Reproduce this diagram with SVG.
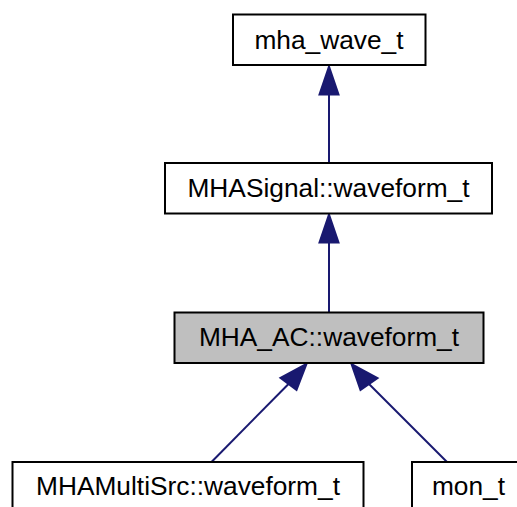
<svg xmlns="http://www.w3.org/2000/svg" width="517" height="507" viewBox="0 0 517 507">
<style>
.box{fill:#ffffff;stroke:#000000;stroke-width:2}
.cur{fill:#bfbfbf;stroke:#000000;stroke-width:2}
.lbl{font-family:"Liberation Sans",Arial,Helvetica,sans-serif;font-size:26.3px;fill:#000000;text-anchor:middle}
.edge{stroke:#191970;stroke-width:2;fill:none}
.head{fill:#191970;stroke:#191970;stroke-width:2}
</style>
<rect width="517" height="507" fill="#ffffff"/>
<g id="connectors">
<line class="edge" x1="329" y1="95" x2="329" y2="163"/>
<polygon class="head" points="329,66.5 319.5,94.5 338.5,94.5"/>
<line class="edge" x1="329" y1="243" x2="329" y2="312"/>
<polygon class="head" points="329,214.5 319.5,242.5 338.5,242.5"/>
<line class="edge" x1="288.5" y1="384" x2="211.5" y2="462"/>
<polygon class="head" points="306.5,364 280.5,378 296.5,390"/>
<line class="edge" x1="369" y1="384" x2="447" y2="462"/>
<polygon class="head" points="351.5,364 360.5,390 377.5,378"/>
</g>
<g id="mha_wave_t">
<rect class="box" x="233" y="14.5" width="192.5" height="50.5"/>
<text class="lbl" x="329" y="49">mha_wave_t</text>
</g>
<g id="MHASignal_waveform_t">
<rect class="box" x="165" y="163" width="327" height="50.5"/>
<text class="lbl" x="328.5" y="197">MHASignal::waveform_t</text>
</g>
<g id="MHA_AC_waveform_t">
<rect class="cur" x="174.5" y="312.5" width="309" height="50.5"/>
<text class="lbl" x="329" y="346">MHA_AC::waveform_t</text>
</g>
<g id="MHAMultiSrc_waveform_t">
<rect class="box" x="12.5" y="462" width="351" height="50.5"/>
<text class="lbl" x="188" y="495">MHAMultiSrc::waveform_t</text>
</g>
<g id="mon_t">
<rect class="box" x="412" y="462" width="113" height="50.5"/>
<text class="lbl" x="468.5" y="495">mon_t</text>
</g>
</svg>
